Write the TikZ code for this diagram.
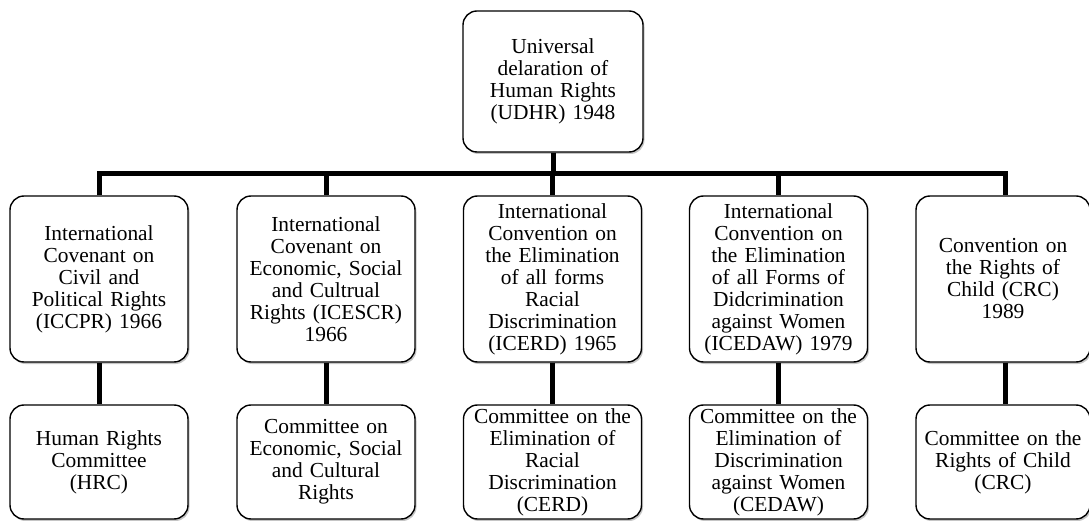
\documentclass[tikz,border=0pt]{standalone}
\usepackage{fontspec}
\setmainfont{Liberation Serif}
\usetikzlibrary{shadows}
\begin{document}
\begin{tikzpicture}[x=1bp,y=-1bp,
  box/.style={draw=black, line width=1.4bp, rounded corners=14bp, fill=white,
    drop shadow={shadow xshift=1.5bp, shadow yshift=-2bp, fill=black!45, opacity=0.5},
    align=center, inner sep=2bp, text width=170bp,
    font=\fontsize{21.4bp}{22bp}\selectfont},
  upper/.style={box, minimum width=178bp, minimum height=166bp},
  lower/.style={box, minimum width=178bp, minimum height=114bp},
  link/.style={line width=5bp, line join=miter}]
\useasboundingbox (0,0) rectangle (1089,521);
\node[box, minimum width=180bp, minimum height=141bp] (top) at (553,81.5)
  {Universal\\delaration of\\Human Rights\\(UDHR) 1948};
\coordinate (bar) at (553,174);
\node[upper] (a1) at (99,279) {International\\Covenant on\\Civil and\\Political Rights\\(ICCPR) 1966};
\node[upper] (a2) at (326,279) {International\\Covenant on\\Economic, Social\\and Cultrual\\Rights (ICESCR)\\1966};
\node[upper] (a3) at (552.5,279) {International\\Convention on\\the Elimination\\of all forms\\Racial\\Discrimination\\(ICERD) 1965};
\node[upper] (a4) at (778.5,279) {International\\Convention on\\the Elimination\\of all Forms of\\Didcrimination\\against Women\\(ICEDAW) 1979};
\node[upper, minimum width=172bp] (a5) at (1003,279) {Convention on\\the Rights of\\Child (CRC)\\1989};
\node[lower] (b1) at (99,462) {Human Rights\\Committee\\(HRC)};
\node[lower] (b2) at (326,462) {Committee on\\Economic, Social\\and Cultural\\Rights};
\node[lower] (b3) at (552.5,462) {Committee on the\\Elimination of\\Racial\\Discrimination\\(CERD)};
\node[lower] (b4) at (778.5,462) {Committee on the\\Elimination of\\Discrimination\\against Women\\(CEDAW)};
\node[lower, minimum width=172bp] (b5) at (1003,462) {Committee on the\\Rights of Child\\(CRC)};
\begin{scope}[on background layer/.style={}]
\draw[link] (top.south) -- (top.south |- bar);
\draw[link] (a1.north) -- (a1.north |- bar) -- ([xshift=2bp]a5.north |- bar) -- ([xshift=2bp]a5.north);
\draw[link] (a2.north |- bar) -- (a2.north);
\draw[link] (a3.north |- bar) -- (a3.north);
\draw[link] (a4.north |- bar) -- (a4.north);
\draw[link] (a1.south) -- (b1.north);
\draw[link] (a2.south) -- (b2.north);
\draw[link] (a3.south) -- (b3.north);
\draw[link] (a4.south) -- (b4.north);
\draw[link] ([xshift=2bp]a5.south) -- ([xshift=2bp]b5.north);
\end{scope}
\end{tikzpicture}
\end{document}
